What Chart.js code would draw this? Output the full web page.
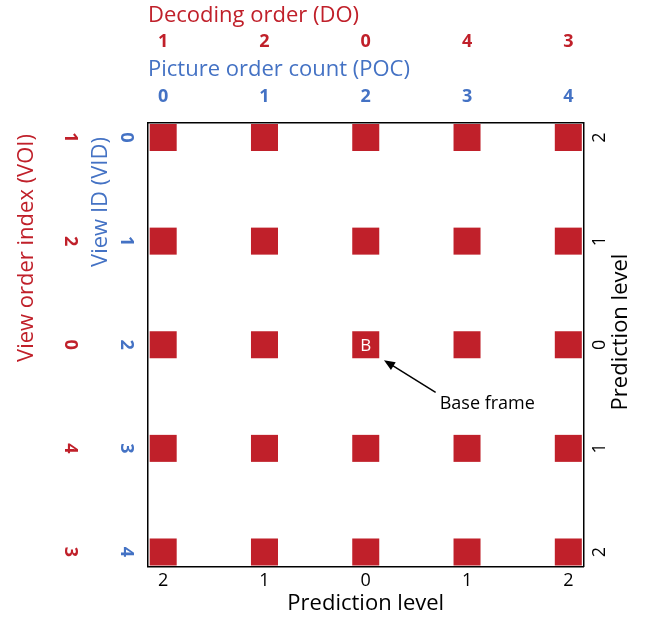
<!DOCTYPE html>
<html>
<head>
<meta charset="utf-8">
<script src="https://cdn.jsdelivr.net/npm/chart.js@4/dist/chart.umd.min.js"></script>
<style>
  body { margin: 0; background: #fff; }
  #wrap { width: 650px; height: 620px; }
</style>
</head>
<body>
<div id="wrap"><canvas id="frames"></canvas></div>
<script>
// grid positions
const pocValues = [0, 1, 2, 3, 4];
const vidValues = [0, 1, 2, 3, 4];
// tick labels
const decodingOrder = [1, 2, 0, 4, 3];
const viewOrderIndex = [1, 2, 0, 4, 3];
const predictionLevel = [2, 1, 0, 1, 2];
const baseFrame = { poc: 2, vid: 2, label: 'B', note: 'Base frame' };

const RED = '#c0202a';
const BLUE = '#4472c4';
const FONT = "'Open Sans', sans-serif";

const points = vidValues.flatMap(v => pocValues.map(p => ({ x: p, y: v })));

const fixTicks = scale => { scale.ticks = pocValues.map(v => ({ value: v })); };
const range = { min: -0.15, max: 4.15 };
const rangeY = { min: -0.14, max: 4.14 };
const lbl = arr => (val) => arr[Math.round(val)];

// titles on the vertical sides, base frame marker and arrow
const extras = {
    id: 'extras',
    afterDatasetsDraw(chart) {
        const { ctx, scales: { x, y } } = chart;
        ctx.save();
        ctx.textBaseline = 'middle';

        // B on the base frame
        ctx.fillStyle = '#fff';
        ctx.textAlign = 'center';
        ctx.font = `17px ${FONT}`;
        ctx.fillText(baseFrame.label, x.getPixelForValue(baseFrame.poc), y.getPixelForValue(baseFrame.vid) + 1);

        // arrow
        const hx = x.getPixelForValue(2.18), hy = y.getPixelForValue(2.15);
        const tx = x.getPixelForValue(2.69), ty = y.getPixelForValue(2.46);
        const ang = Math.atan2(hy - ty, hx - tx);
        ctx.strokeStyle = '#000';
        ctx.lineWidth = 1.5;
        ctx.beginPath();
        ctx.moveTo(tx, ty);
        ctx.lineTo(hx - 6 * Math.cos(ang), hy - 6 * Math.sin(ang));
        ctx.stroke();
        ctx.fillStyle = '#000';
        ctx.beginPath();
        ctx.moveTo(hx, hy);
        ctx.lineTo(hx - 11 * Math.cos(ang) + 4.5 * Math.sin(ang), hy - 11 * Math.sin(ang) - 4.5 * Math.cos(ang));
        ctx.lineTo(hx - 11 * Math.cos(ang) - 4.5 * Math.sin(ang), hy - 11 * Math.sin(ang) + 4.5 * Math.cos(ang));
        ctx.closePath();
        ctx.fill();

        ctx.textAlign = 'left';
        ctx.font = `18px ${FONT}`;
        ctx.fillText(baseFrame.note, x.getPixelForValue(2.73), y.getPixelForValue(2.57));

        // rotated side titles
        const side = (text, cx, cy, color) => {
            ctx.save();
            ctx.translate(cx, cy);
            ctx.rotate(-Math.PI / 2);
            ctx.textAlign = 'center';
            ctx.fillStyle = color;
            ctx.font = `22px ${FONT}`;
            ctx.fillText(text, 0, 0);
            ctx.restore();
        };
        side('View order index (VOI)', 27, 248, RED);
        side('View ID (VID)', 101, 202, BLUE);
        side('Prediction level', 621, 332, '#000');
        ctx.restore();
    }
};

new Chart(document.getElementById('frames'), {
    type: 'scatter',
    data: {
        datasets: [{
            data: points,
            pointStyle: 'rect',
            pointRadius: 19.1,
            pointHoverRadius: 19.1,
            pointBorderWidth: 0,
            backgroundColor: RED,
            borderColor: RED,
            clip: false
        }]
    },
    options: {
        responsive: true,
        maintainAspectRatio: false,
        animation: false,
        layout: { padding: 0 },
        plugins: { legend: { display: false }, tooltip: { enabled: false } },
        scales: {
            x: {
                type: 'linear', position: 'bottom', ...range,
                afterBuildTicks: fixTicks,
                afterFit: s => { s.height = 53.5; },
                grid: { display: false, drawTicks: false },
                border: { display: true, color: '#000', width: 1.5 },
                ticks: { callback: lbl(predictionLevel), color: '#000', padding: 4, maxRotation: 0, font: { family: FONT, size: 18 } },
                title: { display: true, text: 'Prediction level', color: '#000', padding: { top: 0, bottom: 3.5 }, font: { family: FONT, size: 22 } }
            },
            x2: {
                type: 'linear', position: 'top', weight: 0, ...range,
                afterBuildTicks: fixTicks,
                afterFit: s => { s.height = 67; },
                grid: { display: false, drawTicks: false },
                border: { display: true, color: '#000', width: 1.5 },
                ticks: { callback: lbl(pocValues), color: BLUE, padding: 15.7, maxRotation: 0, font: { family: FONT, size: 18, weight: 'bold' } },
                title: { display: true, text: 'Picture order count (POC)', color: BLUE, align: 'start', padding: { top: 1, bottom: 0 }, font: { family: FONT, size: 22 } }
            },
            x3: {
                type: 'linear', position: 'top', weight: 1, ...range,
                afterBuildTicks: fixTicks,
                afterFit: s => { s.height = 56; },
                grid: { display: false, drawTicks: false },
                border: { display: false },
                ticks: { callback: lbl(decodingOrder), color: RED, padding: 3.7, maxRotation: 0, font: { family: FONT, size: 18, weight: 'bold' } },
                title: { display: true, text: 'Decoding order (DO)', color: RED, align: 'start', padding: { top: 2.4, bottom: 0 }, font: { family: FONT, size: 22 } }
            },
            y: {
                type: 'linear', position: 'left', weight: 0, reverse: true, ...rangeY,
                afterBuildTicks: fixTicks,
                afterFit: s => { s.width = 64; },
                grid: { display: false, drawTicks: false },
                border: { display: true, color: '#000', width: 1.5 },
                ticks: { callback: lbl(vidValues), color: BLUE, padding: 17, crossAlign: 'center', minRotation: -90, maxRotation: -90, font: { family: FONT, size: 18, weight: 'bold' } }
            },
            y2: {
                type: 'linear', position: 'left', weight: 1, reverse: true, ...rangeY,
                afterBuildTicks: fixTicks,
                afterFit: s => { s.width = 84; },
                grid: { display: false, drawTicks: false },
                border: { display: false },
                ticks: { callback: lbl(viewOrderIndex), color: RED, padding: 9, crossAlign: 'center', minRotation: -90, maxRotation: -90, font: { family: FONT, size: 18, weight: 'bold' } }
            },
            y3: {
                type: 'linear', position: 'right', reverse: true, ...rangeY,
                afterBuildTicks: fixTicks,
                afterFit: s => { s.width = 66.5; },
                grid: { display: false, drawTicks: false },
                border: { display: true, color: '#000', width: 1.5 },
                ticks: { callback: lbl(predictionLevel), color: '#000', padding: 11.5, crossAlign: 'center', minRotation: 90, maxRotation: 90, font: { family: FONT, size: 18 } }
            }
        }
    },
    plugins: [extras]
});
</script>
</body>
</html>
